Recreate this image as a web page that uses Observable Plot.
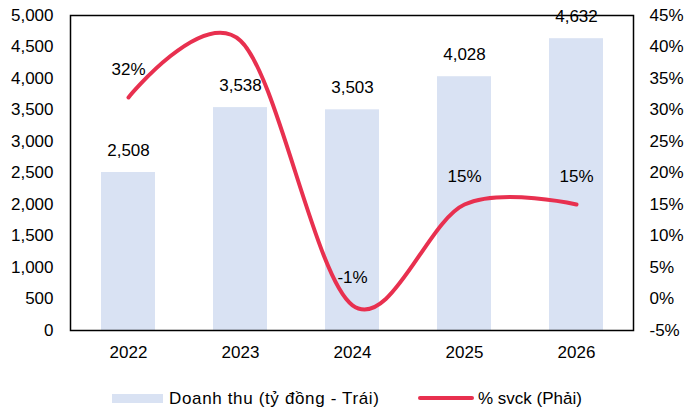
<!DOCTYPE html>
<html>
<head>
<meta charset="utf-8">
<script src="https://cdn.jsdelivr.net/npm/d3@7"></script>
<script src="https://cdn.jsdelivr.net/npm/@observablehq/plot@0.6"></script>
<style>
  html, body { margin: 0; padding: 0; background: #fff; }
  #wrap { position: relative; width: 686px; height: 412px; font-family: "Liberation Sans", Arial, sans-serif; color: #000; }
  #legend { position: absolute; left: 0; top: 388px; width: 686px; height: 22px; font-size: 17px; }
  .sw { position: absolute; }
  .lt { position: absolute; top: 0; line-height: 22px; white-space: nowrap; }
</style>
</head>
<body>
<div id="wrap"><div id="chart"></div>
<div id="legend">
  <div class="sw" style="left:112px; top:6px; width:51px; height:9px; background:#D9E2F3;"></div>
  <div class="lt" style="left:169px; letter-spacing:0.65px;">Doanh thu (tỷ đồng - Trái)</div>
  <div class="sw" style="left:418px; top:8px; width:56px; height:4px; border-radius:2px; background:#E8304F;"></div>
  <div class="lt" style="left:478px;">% svck (Phải)</div>
</div>
</div>
<script>
const years = ["2022", "2023", "2024", "2025", "2026"];
const revenue = [2508, 3538, 3503, 4028, 4632];
const growthPct = [32, 41, -1, 15, 15];
const growthLabels = ["32%", "", "-1%", "15%", "15%"];
const leftTicks = [0, 500, 1000, 1500, 2000, 2500, 3000, 3500, 4000, 4500, 5000];
const rightTicks = [-5, 0, 5, 10, 15, 20, 25, 30, 35, 40, 45];

// right axis (-5%..45%) mapped onto left scale (0..5000)
const toLeft = p => (p + 5) * 100;

const data = years.map((y, i) => ({year: y, rev: revenue[i], pct: growthPct[i], py: toLeft(growthPct[i]), plabel: growthLabels[i]}));

const red = "#E8304F";
const chart = Plot.plot({
  width: 686,
  height: 375,
  marginTop: 15,
  marginBottom: 45,
  marginLeft: 70,
  marginRight: 53,
  style: {fontFamily: "Liberation Sans, Arial, sans-serif", fontSize: "17px", color: "#000", background: "#fff"},
  x: {domain: years, paddingInner: 0.52, paddingOuter: 0.26, label: null},
  y: {domain: [0, 5000], label: null},
  marks: [
    Plot.barY(data, {x: "year", y: "rev", fill: "#D9E2F3"}),
    Plot.text(data, {x: "year", y: "rev", text: d => d3.format(",")(d.rev), dy: -22, fill: "#000", fontSize: 17}),
    Plot.line(data, {x: "year", y: "py", stroke: red, strokeWidth: 4, curve: "cardinal", strokeLinecap: "round"}),
    Plot.text(data, {x: "year", y: "py", text: "plabel", dy: -28, fill: "#000", fontSize: 17}),
    Plot.axisY(leftTicks, {anchor: "left", tickSize: 0, tickPadding: 17, tickFormat: d3.format(","), label: null, fontSize: 17}),
    Plot.axisY(rightTicks.map(toLeft), {anchor: "right", tickSize: 0, tickPadding: 16, tickFormat: v => (v / 100 - 5) + "%", label: null, fontSize: 17}),
    Plot.axisX({tickSize: 0, tickPadding: 15, label: null, fontSize: 17}),
    Plot.frame({stroke: "#000", strokeWidth: 1.5})
  ]
});
document.getElementById("chart").appendChild(chart);
</script>
</body>
</html>
